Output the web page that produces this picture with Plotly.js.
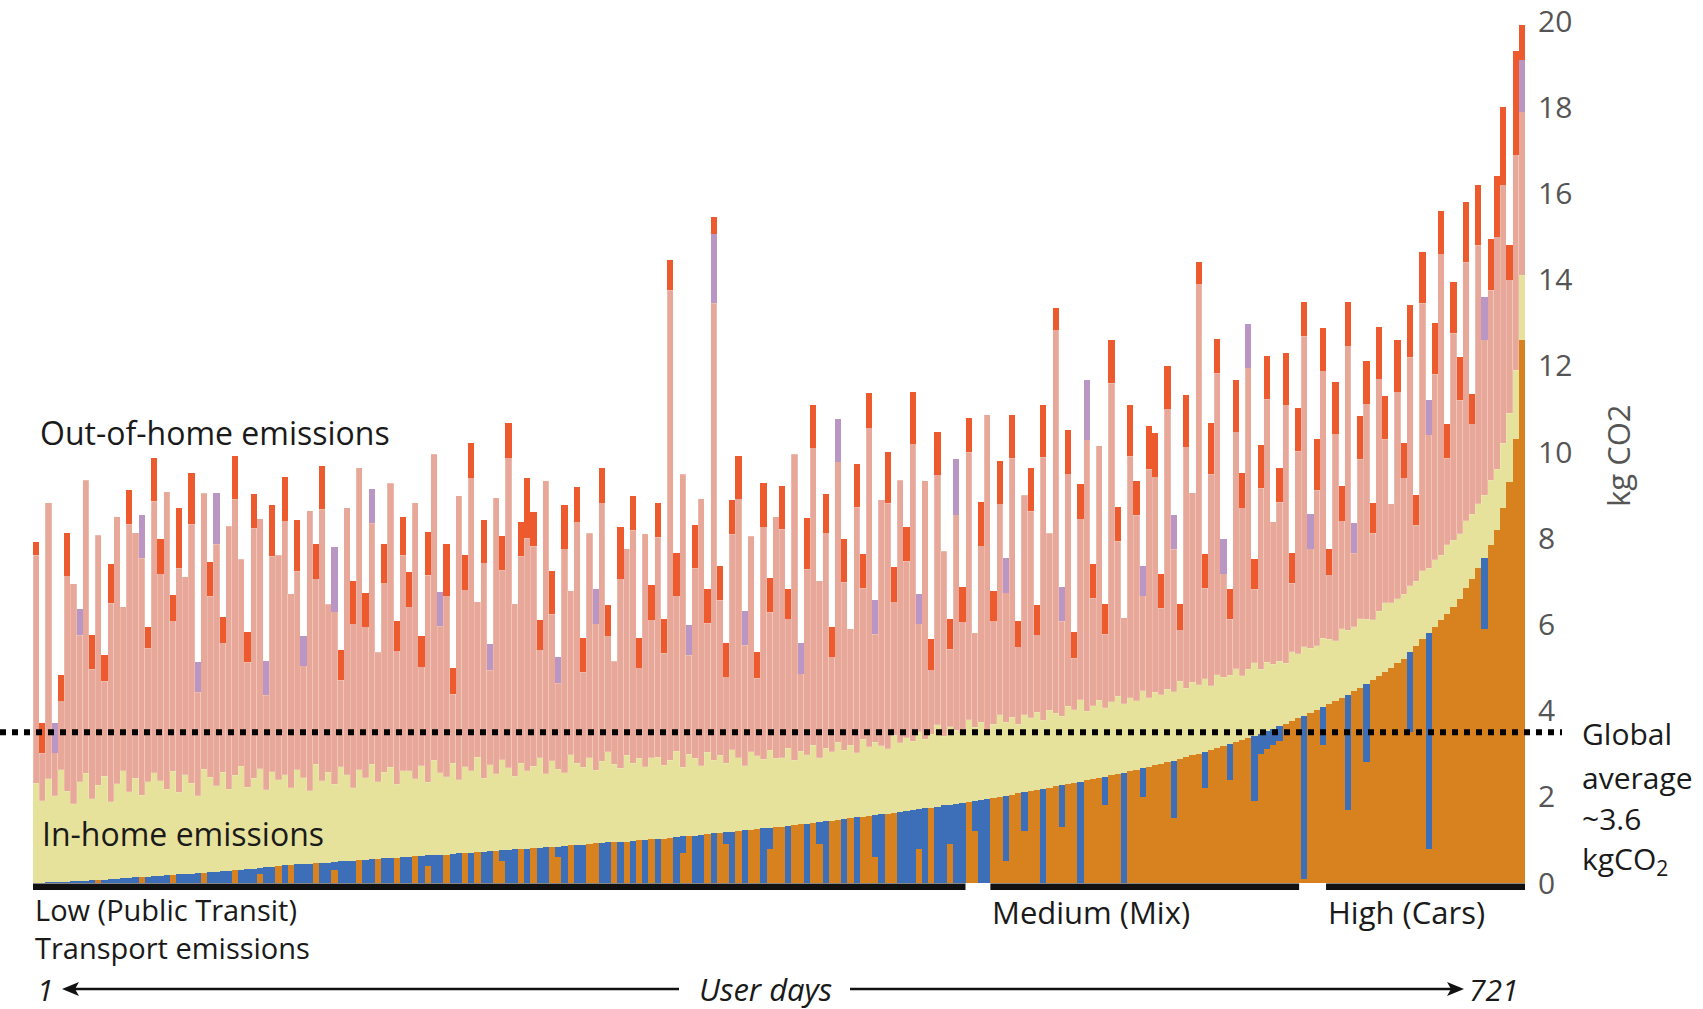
<!DOCTYPE html>
<html><head><meta charset="utf-8">
<script src="https://cdn.plot.ly/plotly-3.0.1.min.js"></script>
<style>html,body{margin:0;padding:0;background:#fff;}#chart{width:1703px;height:1009px;}</style>
</head><body><div id="chart"></div>
<script>
// Each bar = a bin of three user days, sorted by transport emissions (kg CO2)
const transportTotal = [
0.01,0.01,0.02,0.02,0.03,0.03,0.04,0.05,0.05,0.06,0.07,0.08,0.09,0.1,0.11,0.12,0.13,0.14,0.15,0.16,
0.17,0.18,0.19,0.2,0.21,0.22,0.23,0.24,0.25,0.26,0.27,0.28,0.3,0.31,0.32,0.33,0.35,0.36,0.38,0.4,
0.41,0.41,0.43,0.44,0.44,0.46,0.47,0.47,0.49,0.5,0.51,0.51,0.53,0.54,0.55,0.55,0.57,0.58,0.59,0.6,
0.61,0.62,0.62,0.64,0.65,0.66,0.66,0.68,0.69,0.7,0.7,0.72,0.73,0.74,0.74,0.76,0.77,0.78,0.78,0.8,
0.81,0.81,0.83,0.84,0.84,0.86,0.88,0.88,0.89,0.91,0.92,0.92,0.94,0.95,0.96,0.96,0.98,0.99,1.0,1.01,
1.02,1.03,1.05,1.06,1.08,1.09,1.1,1.12,1.13,1.15,1.16,1.18,1.19,1.21,1.22,1.24,1.25,1.27,1.28,1.3,
1.31,1.33,1.35,1.36,1.38,1.4,1.41,1.43,1.45,1.47,1.48,1.5,1.52,1.54,1.56,1.57,1.59,1.61,1.63,1.65,
1.67,1.69,1.71,1.73,1.75,1.77,1.8,1.82,1.84,1.86,1.89,1.91,1.93,1.96,1.98,2.0,2.03,2.05,2.08,2.1,
2.13,2.16,2.18,2.21,2.24,2.27,2.3,2.32,2.35,2.38,2.41,2.44,2.47,2.5,2.53,2.56,2.6,2.63,2.66,2.7,
2.73,2.77,2.8,2.84,2.88,2.92,2.96,3.0,3.04,3.08,3.13,3.17,3.22,3.27,3.31,3.36,3.41,3.46,3.52,3.58,
3.64,3.7,3.76,3.82,3.88,3.95,4.01,4.08,4.15,4.22,4.3,4.37,4.45,4.53,4.62,4.71,4.8,4.9,5.0,5.1,
5.2,5.35,5.5,5.65,5.8,5.95,6.1,6.25,6.4,6.6,6.85,7.05,7.3,7.55,7.85,8.2,8.7,9.3,10.3,12.6];

// car share of the transport emissions (the rest is public transit)
const carPart = [
0,0,0,0,0,0,0,0,0,0,0.07,0,0,0,0,0,0,0.14,0,0,
0,0,0.19,0,0,0,0,0.24,0,0,0,0,0.3,0,0,0,0.2,0,0,0.4,
0,0.41,0,0,0,0.46,0,0,0.3,0,0,0,0.53,0,0,0.55,0,0,0.59,0,
0,0.62,0,0.4,0,0,0.66,0,0,0.7,0,0.72,0,0,0.74,0.5,0,0,0.78,0,
0.81,0,0,0.84,0.6,0,0.88,0,0,0.91,0.92,0,0,0.95,0,0.96,0,0.99,0,1.01,
0,1.03,1.05,0,0.7,1.09,0,0,1.13,0,1.16,0.9,0,1.21,0,1.24,1.25,0,0.8,1.3,
1.31,0,1.35,1.36,0,1.4,0.9,0,1.45,1.47,0,1.5,0,1.54,1.56,0.6,0,1.61,1.63,0,
0,0,0.8,0,1.75,0,0,0.9,0,0,1.89,1.2,0,0,1.98,2.0,0.5,2.05,2.08,1.2,
2.13,2.16,0,2.21,2.24,1.3,2.3,2.32,0,2.38,2.41,2.44,1.8,2.5,2.53,0,2.6,2.63,2.0,2.7,
2.73,2.77,2.8,1.5,2.88,2.92,2.96,3.0,2.2,3.08,3.13,3.17,2.4,3.27,3.31,3.36,1.9,3.0,3.1,3.2,
3.3,3.7,3.76,3.82,0.1,3.95,4.01,3.2,4.15,4.22,4.3,1.7,4.45,4.53,2.8,4.71,4.8,4.9,5.0,5.1,
5.2,3.5,5.5,5.65,0.8,5.95,6.1,6.25,6.4,6.6,6.85,7.05,7.3,5.9,7.85,8.2,8.7,9.3,10.3,12.6];

const inHome = [
2.3,1.9,2.4,2.0,2.6,2.1,1.8,2.3,2.5,1.9,2.2,2.4,1.8,2.2,2.5,2.0,2.3,1.9,2.2,2.4,
2.2,2.0,2.4,1.9,2.3,2.1,1.8,2.4,2.2,2.0,2.3,1.9,2.2,2.4,1.9,2.1,2.3,1.8,2.2,2.0,
2.1,1.8,2.2,2.0,1.7,2.3,1.9,2.1,1.8,2.2,2.0,1.7,2.1,1.9,2.2,1.8,2.0,2.1,1.7,2.0,
2.0,1.8,2.1,1.7,2.2,1.9,1.8,2.1,1.7,2.0,1.9,2.2,1.7,2.0,1.8,2.1,1.9,1.7,2.0,1.8,
1.9,2.1,1.7,2.0,1.8,1.7,2.1,1.9,1.8,2.0,1.7,1.9,2.1,1.8,1.7,2.0,1.8,1.9,1.7,1.9,
1.9,1.7,1.8,2.0,1.6,1.9,1.8,1.6,1.9,1.7,1.8,1.6,1.9,1.7,1.5,1.8,1.7,1.6,1.8,1.6,
1.6,1.8,1.5,1.7,1.6,1.8,1.5,1.7,1.6,1.8,1.6,1.7,1.5,1.8,1.6,1.7,1.6,1.5,1.8,1.6,
1.7,1.6,1.8,1.6,1.7,1.9,1.6,1.8,1.7,1.6,1.9,1.7,1.8,1.6,1.7,1.9,1.7,1.8,1.6,1.8,
1.7,1.8,1.6,1.8,1.7,1.6,1.8,1.7,1.9,1.6,1.7,1.8,1.6,1.7,1.8,1.6,1.7,1.6,1.8,1.6,
1.7,1.6,1.7,1.6,1.8,1.6,1.7,1.6,1.7,1.5,1.7,1.6,1.6,1.7,1.5,1.6,1.7,1.5,1.6,1.5,
1.5,1.4,1.6,1.5,1.6,1.5,1.5,1.6,1.5,1.4,1.6,1.5,1.5,1.6,1.5,1.4,1.5,1.6,1.5,1.5,
1.5,1.55,1.5,1.6,1.5,1.55,1.5,1.6,1.55,1.5,1.55,1.5,1.5,1.45,1.5,1.4,1.5,1.6,1.6,1.5];

const outPink = [
5.3,1.1,6.4,1.0,1.6,5.0,5.1,3.4,6.8,3.0,5.8,2.2,4.6,6.2,3.8,6.2,5.7,5.5,3.1,6.3,
4.8,6.9,3.5,5.2,4.6,6.0,2.4,6.4,4.2,5.6,3.0,6.1,6.4,4.8,2.9,5.8,5.8,2.2,5.0,5.2,
5.9,4.5,4.6,2.6,6.5,4.3,6.3,3.9,4.0,2.0,6.2,3.8,7.0,3.5,5.6,3.0,4.4,6.6,3.1,5.0,
3.8,6.4,2.3,4.8,7.1,3.4,4.2,1.6,6.6,4.1,6.8,3.6,5.0,2.2,6.4,4.4,7.2,4.0,4.8,5.4,
5.1,2.5,6.8,3.4,2.0,5.2,3.8,5.6,2.2,5.2,3.4,6.0,2.7,2.4,4.4,4.8,5.4,2.1,5.4,3.2,
5.1,2.6,10.9,3.6,6.8,2.3,4.4,6.2,3.0,10.6,3.6,2.0,5.0,6.0,2.8,5.0,1.8,5.4,3.2,5.6,
5.3,3.0,7.1,1.8,4.3,6.9,4.1,5.0,2.2,6.5,3.9,2.7,5.7,3.5,7.4,2.5,5.7,5.7,3.1,6.1,
4.1,6.9,2.5,6.0,1.5,5.8,4.3,1.8,5.0,2.6,6.2,2.2,4.1,7.3,2.4,4.9,3.0,6.0,1.8,5.1,
4.8,1.8,6.1,4.1,8.9,2.2,5.4,1.2,4.2,6.3,2.5,5.9,1.7,7.4,3.6,2.0,5.6,4.3,2.2,5.3,
5.0,2.0,6.5,3.3,1.2,5.6,4.4,9.3,2.1,4.9,7.0,2.4,1.3,5.5,3.9,7.0,1.7,4.2,6.1,3.3,
3.7,6.0,1.6,4.7,7.2,2.3,3.6,6.2,1.5,4.8,2.5,6.6,1.7,3.7,5.0,2.0,5.4,3.8,2.3,4.8,
2.7,5.3,1.3,6.2,3.1,4.3,7.0,2.0,4.8,3.1,6.0,2.1,6.0,3.6,4.4,5.4,6.0,3.1,5.0,3.8];

const outPurple = [
0,0,0,0.7,0,0,0,0.6,0,0,0,0,0,0,0,0,0,1.0,0,0,
0,0,0,0,0,0,0.7,0,0,1.2,0,0,0,0,0,0,0,0.8,0,0,
0,0,0,0.7,0,0,0,0,1.5,0,0,0,0,0,0.8,0,0,0,0,0,
0,0,0,0,0,0.8,0,0,0,0,0,0,0,0.6,0,0,0,0,0,0,
0,0,0,0,0.6,0,0,0,0,0,0.8,0,0,0,0,0,0,0,0,0,
0,0,0,0,0,0.7,0,0,0,1.6,0,0,0,0,0.8,0,0,0,0,0,
0,0,0,0.7,0,0,0,0,0,1.0,0,0,0,0,0,0.8,0,0,0,0,
0,0,0.7,0,0,0,0,0,1.3,0,0,0,0,0,0,0,0.8,0,0,0,
0,0,0,0,0,0.8,0,0,0,1.4,0,0,0,0,0,0,0,0,0.7,0,
0,0,0,0.8,0,0,0,0,0,0,0,0.8,0,0,0,1.0,0,0,0,0,
0,0,0,0,0,0.8,0,0,0,0,0,0,0.7,0,0,0,0,0,0,0,
0,0,0,0,0.8,0,0,0,0,0,0,0,0,1.0,0,0,0,0,0,1.2];

const outRed = [
0.3,0.7,0,0,0.6,1.0,0,0,0,0.8,0,0.6,0.9,0,0,0.8,0,0,0.5,1.0,
0.8,0,0.6,1.4,0,1.2,0,0,0.8,0,0.6,0,1.0,0,0.7,0.8,0,0,1.2,0,
1.0,0,1.2,0,0,0.8,1.0,0,0,0.7,0,1.0,0,0.8,0,0,0.9,0,0.7,0.9,
0.8,0,0.7,1.0,0,0,1.2,0.6,0,0.8,0.8,0,1.0,0,0,0.8,0.8,0,0.8,1.4,
0.8,0.7,0,1.0,0,1.0,0,0.8,0.8,0,0,0.8,0.7,0,1.2,0,0.8,0.7,0,0.8,
0.8,0.8,0.7,1.0,0,0,1.0,0,0.8,0.4,0.8,0.8,0.8,1.0,0,0,0.6,1.0,0.8,0,
1.0,0.7,0,0,1.2,1.0,0,0.9,0.7,0,1.0,0,1.0,0.8,0.8,0,0,1.2,0.8,0,
0.8,1.2,0,0,0.7,1.0,0,0.7,0,0.8,0.8,0,1.0,0,0.7,1.0,0,1.0,0.6,0,
1.0,0.7,1.2,0,0.5,0,1.0,0.6,0.8,0,0.8,0,0.7,1.0,0.8,0,1.2,0.8,0,1.0,
1.0,0.8,1.0,0,0.6,1.2,0,0.5,0.8,1.2,0.8,0,0.7,1.2,0.8,0,0.7,1.0,1.0,0,
0.8,1.2,0.7,1.0,0.8,0,1.2,1.0,0.6,1.2,0.8,1.0,0,1.0,1.0,0.7,1.2,1.0,0,1.2,
0.8,1.2,0.7,1.2,0,1.2,1.0,0.8,1.2,1.0,1.4,0.7,1.4,0,1.2,1.4,1.8,0.8,2.4,0.8];

const groups = [
  {label: 'Low (Public Transit)', from: 1, to: 450},
  {label: 'Medium (Mix)', from: 463, to: 611},
  {label: 'High (Cars)', from: 625, to: 720}
];
const transportCaption = 'Transport emissions';
const globalAverage = 3.5;
const globalAverageText = ['Global', 'average', '~3.6', 'kgCO<sub>2</sub>'];
const yTicks = [0, 2, 4, 6, 8, 10, 12, 14, 16, 18, 20];
const firstDay = 1, lastDay = 721;

// derived
const dayBin = transportTotal.map((_, i) => 3 * i + 2);
const transitPart = transportTotal.map((t, i) => Math.max(0, +(t - carPart[i]).toFixed(2)));

// pixel helpers for the fixed 1703x1009 figure
const PL = 33, PR = 1525, PT = 21, PB = 883;
const px = x => (x - PL) / (PR - PL);
const py = y => (PB - y) / (PB - PT);

const barCommon = {type: 'bar', x: dayBin, width: 3, hoverinfo: 'skip'};
const traces = [
  Object.assign({}, barCommon, {name: 'Car', y: carPart, marker: {color: '#d8821f', line: {width: 0}}}),
  Object.assign({}, barCommon, {name: 'Public transit', y: transitPart, marker: {color: '#3d6fb8', line: {width: 0}}}),
  Object.assign({}, barCommon, {name: 'In-home', y: inHome, marker: {color: '#e6e29c', line: {width: 0}}}),
  Object.assign({}, barCommon, {name: 'Out-of-home', y: outPink, marker: {color: '#e8a899', line: {width: 0.5, color: 'rgba(255,245,240,0.45)'}}}),
  Object.assign({}, barCommon, {name: 'Out-of-home (b)', y: outPurple, marker: {color: '#b996c4', line: {width: 0}}}),
  Object.assign({}, barCommon, {name: 'Out-of-home (c)', y: outRed, marker: {color: '#ec5a2e', line: {width: 0}}})
];

const txt = {family: 'Open Sans, Noto Sans, sans-serif', color: '#1a1a1a'};
const annotations = [
  {text: 'Out-of-home emissions', x: px(38), y: py(432), xanchor: 'left', yanchor: 'middle', font: Object.assign({size: 32}, txt)},
  {text: 'In-home emissions', x: px(40), y: py(833), xanchor: 'left', yanchor: 'middle', font: Object.assign({size: 32}, txt)},
  {text: 'kg CO2', x: px(1618), y: py(456), textangle: -90, xanchor: 'center', yanchor: 'middle', font: {family: 'Open Sans, sans-serif', size: 31, color: '#555'}},
  {text: '<i>' + firstDay + '</i>', x: px(35), y: py(989), xanchor: 'left', yanchor: 'middle', font: Object.assign({size: 30}, txt)},
  {text: '<i>User days</i>', x: px(765), y: py(989), xanchor: 'center', yanchor: 'middle', font: Object.assign({size: 31}, txt)},
  {text: '<i>' + lastDay + '</i>', x: px(1521), y: py(989), xanchor: 'right', yanchor: 'middle', font: Object.assign({size: 30}, txt)}
];
const gaY = [733, 777, 818, 860];
globalAverageText.forEach((t, i) => annotations.push({text: t, x: px(1580), y: py(gaY[i]), xanchor: 'left', yanchor: 'middle', font: Object.assign({size: 30}, txt)}));
groups.forEach((g, i) => annotations.push(i === 0 ? {
  text: g.label + '<br>' + transportCaption,
  xref: 'x', x: g.from - 0.5, y: py(929), xanchor: 'left', yanchor: 'middle', align: 'left',
  font: Object.assign({size: 29}, txt)
} : {
  text: g.label,
  xref: 'x', x: g.from - 0.5, y: py(912), xanchor: 'left', yanchor: 'middle', align: 'left',
  font: Object.assign({size: 31}, txt)
}));
annotations.forEach(a => { if (!a.xref) a.xref = 'paper'; a.yref = 'paper'; a.showarrow = false; });

const shapes = groups.map(g => ({type: 'rect', xref: 'x', yref: 'paper', x0: g.from - 0.5, x1: g.to + 0.5, y0: py(890), y1: py(883.5), fillcolor: '#111', line: {width: 0}}));
shapes.push({type: 'line', xref: 'paper', yref: 'y', x0: px(0), x1: px(1562), y0: globalAverage, y1: globalAverage, line: {color: '#000', width: 6, dash: '6px,6px'}});
// "User days" arrows
const arrowY = 989;
[[66, 679], [850, 1460]].forEach(([a, b]) => shapes.push({type: 'line', xref: 'paper', yref: 'paper', x0: px(a), x1: px(b), y0: py(arrowY), y1: py(arrowY), line: {color: '#111', width: 2.5}}));
const head = (tip, dir) => `M ${px(tip)},${py(arrowY)} L ${px(tip + dir * 17)},${py(arrowY - 7)} L ${px(tip + dir * 13)},${py(arrowY)} L ${px(tip + dir * 17)},${py(arrowY + 7)} Z`;
shapes.push({type: 'path', xref: 'paper', yref: 'paper', path: head(62, 1), fillcolor: '#111', line: {width: 0}});
shapes.push({type: 'path', xref: 'paper', yref: 'paper', path: head(1464, -1), fillcolor: '#111', line: {width: 0}});

const layout = {
  width: 1703, height: 1009,
  margin: {l: PL, r: 1703 - PR, t: PT, b: 1009 - PB, pad: 0},
  paper_bgcolor: '#fff', plot_bgcolor: '#fff',
  barmode: 'stack', bargap: 0, showlegend: false,
  xaxis: {range: [0.5, 720.5], visible: false, fixedrange: true},
  yaxis: {range: [0, 20], side: 'right', tickvals: yTicks, ticks: '', ticklabelstandoff: 12,
          ticklabeloverflow: 'allow', showgrid: false, zeroline: false, showline: false,
          tickfont: {family: 'Open Sans, sans-serif', size: 30, color: '#555'}, fixedrange: true},
  annotations: annotations,
  shapes: shapes
};
Plotly.newPlot('chart', traces, layout, {staticPlot: true, displayModeBar: false});
</script></body></html>
